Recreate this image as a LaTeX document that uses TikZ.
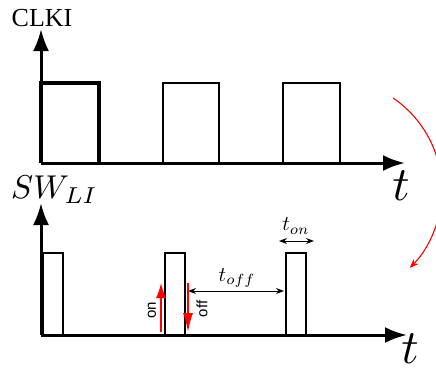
\documentclass[tikz,border=0pt]{standalone}
\usepackage{graphicx}
\usepackage{fontspec}
\newfontfamily\timesfont{Liberation Serif}
\newfontfamily\arialfont{Liberation Sans}
\usetikzlibrary{arrows.meta}
\begin{document}
\begin{tikzpicture}[x=1pt,y=-1pt,
  axis/.style={line width=3pt,-{Latex[length=22pt,width=16pt]}},
  pulse/.style={line width=2.6pt,line join=miter},
  pulsethick/.style={line width=4pt,line join=miter},
  dim/.style={line width=1pt,{Stealth[length=8pt,width=6pt]}-{Stealth[length=8pt,width=6pt]}},
  redarr/.style={red,line width=1.4pt},
  lbl/.style={inner sep=0pt},
  rotlbl/.style={inner sep=0pt,rotate=90,font=\arialfont\fontsize{15}{17}\selectfont}]
\clip (0,0) rectangle (436,367);
% ---------- top panel ----------
\coordinate (o1) at (41,163);
\coordinate (y1) at (41,29);
\coordinate (x1) at (405,163);
\draw[pulsethick] (41,163) -- (41,83) -- (99,83) -- (99,163);
\draw[pulse] (163,163) -- (163,83) -- (219,83) -- (219,163);
\draw[pulse] (283,163) -- (283,83) -- (340,83) -- (340,163);
\draw[axis] (o1) -- (y1);
\draw[axis] (o1) -- (x1);
\node[lbl,font=\timesfont\fontsize{26}{30}\selectfont] (clki) at (42,18) {CLKI};
\node[lbl] (t1) at (401,186) {\scalebox{4.8}{$t$}};
% ---------- bottom panel ----------
\coordinate (o2) at (41,335);
\coordinate (y2) at (41,203);
\coordinate (x2) at (407,335);
\draw[pulse] (43,335) -- (43,253) -- (63,253) -- (63,335);
\draw[pulse] (165,335) -- (165,253) -- (185,253) -- (185,335);
\draw[pulse] (286,335) -- (286,253) -- (306,253) -- (306,335);
\draw[axis] (o2) -- (y2);
\draw[axis] (o2) -- (x2);
\node[lbl,anchor=west] (sw) at (11,190) {\scalebox{3.3}{$SW_{LI}$}};
\node[lbl] (t2) at (410,349) {\scalebox{4.8}{$t$}};
% t_on
\coordinate (ona) at (279,241);
\coordinate (onb) at (314,241);
\draw[dim] (ona) -- (onb);
\node[lbl] (ton) at (296,226) {\scalebox{2.1}{$t_{on}$}};
% t_off
\coordinate (offa) at (188,291);
\coordinate (offb) at (284,291);
\draw[dim] (offa) -- (offb);
\node[lbl] (toff) at (237,278) {\scalebox{2.1}{$t_{off}$}};
% on / off red arrows
\coordinate (onlo) at (161,332);
\coordinate (onhi) at (161,283);
\draw[redarr,-{Latex[length=15pt,width=10pt]}] (onlo) -- (onhi);
\node[rotlbl] (onl) at (152,310) {on};
\coordinate (offhi) at (188,283);
\coordinate (offlo) at (188,332);
\draw[redarr,-{Latex[length=19pt,width=10pt]}] (offhi) -- (offlo);
\node[rotlbl] (offl) at (202,309) {off};
% red arc
\coordinate (arcs) at (393,98);
\draw[red,line width=1.1pt,-{Stealth[length=9pt,width=7pt]}] (arcs) arc[start angle=-55.9,end angle=44.6,radius=111];
\end{tikzpicture}
\end{document}
